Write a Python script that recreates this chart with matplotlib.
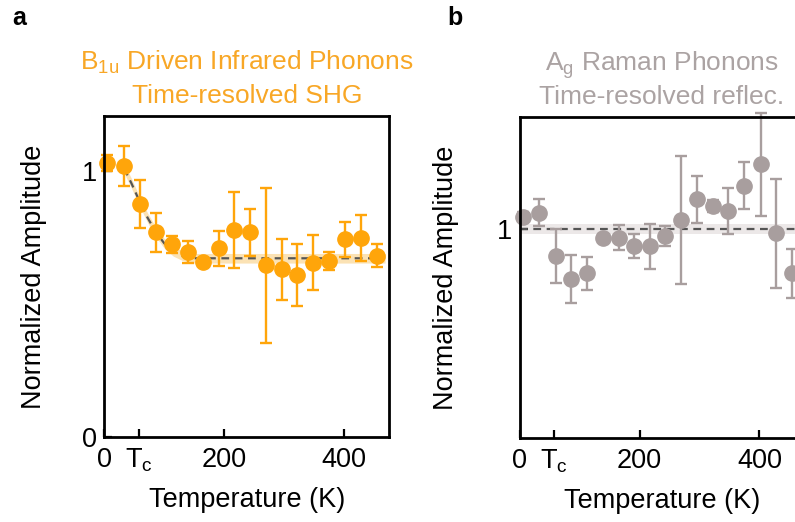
import matplotlib
matplotlib.use("Agg")
import matplotlib.pyplot as plt

plt.rcParams['font.family'] = ['Liberation Sans', 'DejaVu Sans']
plt.rcParams['mathtext.fontset'] = 'custom'
plt.rcParams['mathtext.rm'] = 'Liberation Sans'
plt.rcParams['mathtext.it'] = 'Liberation Sans:italic'

# temperatures (K), shared by both panels
temps = [5, 33, 60, 86, 112, 139, 165, 191, 217, 243, 269, 296, 322, 348, 375, 402, 428, 454]
Tc = 57

# panel a: B1u infrared phonons (SHG)
amp_a = [1.031, 1.019, 0.876, 0.769, 0.724, 0.696, 0.659, 0.709, 0.778, 0.769,
         0.646, 0.631, 0.609, 0.656, 0.662, 0.744, 0.749, 0.681]
err_a = [0.031, 0.076, 0.092, 0.075, 0.031, 0.042, 0.010, 0.066, 0.143, 0.088,
         0.292, 0.115, 0.117, 0.104, 0.035, 0.066, 0.086, 0.043]
fit_T_a = [33, 45, 58, 72, 86, 100, 115, 130, 150, 468]
fit_A_a = [1.01, 0.955, 0.89, 0.825, 0.77, 0.728, 0.698, 0.682, 0.672, 0.672]

# panel b: Ag Raman phonons (reflectivity)
amp_b = [1.061, 1.080, 0.872, 0.761, 0.789, 0.960, 0.960, 0.920, 0.920, 0.968,
         1.045, 1.144, 1.113, 1.089, 1.209, 1.311, 0.981, 0.789]
err_b = [0.020, 0.066, 0.130, 0.116, 0.080, 0.020, 0.061, 0.058, 0.108, 0.046,
         0.306, 0.114, 0.030, 0.110, 0.112, 0.245, 0.260, 0.117]
fit_T_b = [0, 480]
fit_A_b = [1.0, 1.0]

orange = '#FFA50A'
gray = '#A89E9E'
fs = 19.5

fig = plt.figure(figsize=(7.95, 5.22), dpi=100)
W, H = 795.0, 522.0
ax_a = fig.add_axes([104.3 / W, 1 - 437 / H, 285 / W, 321 / H])
ax_b = fig.add_axes([519.5 / W, 1 - 438 / H, 285 / W, 321.3 / H])


def panel(ax, amp, err, fit_T, fit_A, band, col, bandcol, ymax, yticks, ylab_x):
    ax.fill_between(fit_T, [a - band for a in fit_A], [a + band for a in fit_A],
                    color=bandcol, lw=0, zorder=1)
    ax.plot(fit_T, fit_A, ls=(0, (3.5, 2.5)), color='#555555', lw=1.6, zorder=2)
    ax.errorbar(temps, amp, yerr=err, fmt='o', color=col, ms=11, mec=col,
                elinewidth=1.7, capsize=4, capthick=1.7, clip_on=False, zorder=3)
    ax.set_xlim(0, 475)
    ax.set_ylim(0, ymax)
    ax.set_xticks([0, Tc, 200, 400])
    ax.set_xticklabels(['0', r'T$_\mathregular{c}$', '200', '400'])
    ax.set_yticks(yticks)
    ax.set_yticklabels([str(t) for t in yticks])
    ax.tick_params(direction='in', length=6, width=1.6, labelsize=fs)
    ax.tick_params(axis='x', pad=7)
    ax.tick_params(axis='y', pad=5)
    for s in ax.spines.values():
        s.set_linewidth(2)
        s.set_zorder(4)
    ax.set_xlabel('Temperature (K)', fontsize=fs)
    ax.set_ylabel('Normalized Amplitude', fontsize=fs)
    ax.xaxis.set_label_coords(0.5, -0.157)
    ax.yaxis.set_label_coords(ylab_x, 0.5)


panel(ax_a, amp_a, err_a, fit_T_a, fit_A_a, 0.018, orange, '#FBE2B4', 1.207, [0, 1], -0.2)
panel(ax_b, amp_b, err_b, fit_T_b, fit_A_b, 0.024, gray, '#ECE8E8', 1.54, [1], -0.212)

# titles
ax_a.text(0.5, 1.1433, r'B$_\mathregular{1u}$ Driven Infrared Phonons', color='#F8A726',
          fontsize=19, ha='center', va='baseline', transform=ax_a.transAxes)
ax_a.text(0.5, 1.0405, 'Time-resolved SHG', color='#F8A726',
          fontsize=19, ha='center', va='baseline', transform=ax_a.transAxes)
ax_b.text(0.5, 1.1433, r'A$_\mathregular{g}$ Raman Phonons', color='#ABA3A3',
          fontsize=19, ha='center', va='baseline', transform=ax_b.transAxes)
ax_b.text(0.5, 1.0405, 'Time-resolved reflec.', color='#ABA3A3',
          fontsize=19, ha='center', va='baseline', transform=ax_b.transAxes)

# panel letters
fig.text(12 / W, 1 - 25 / H, 'a', fontsize=18, fontweight='bold', va='baseline')
fig.text(447 / W, 1 - 25 / H, 'b', fontsize=18, fontweight='bold', va='baseline')

fig.savefig('out.png', dpi=100)
